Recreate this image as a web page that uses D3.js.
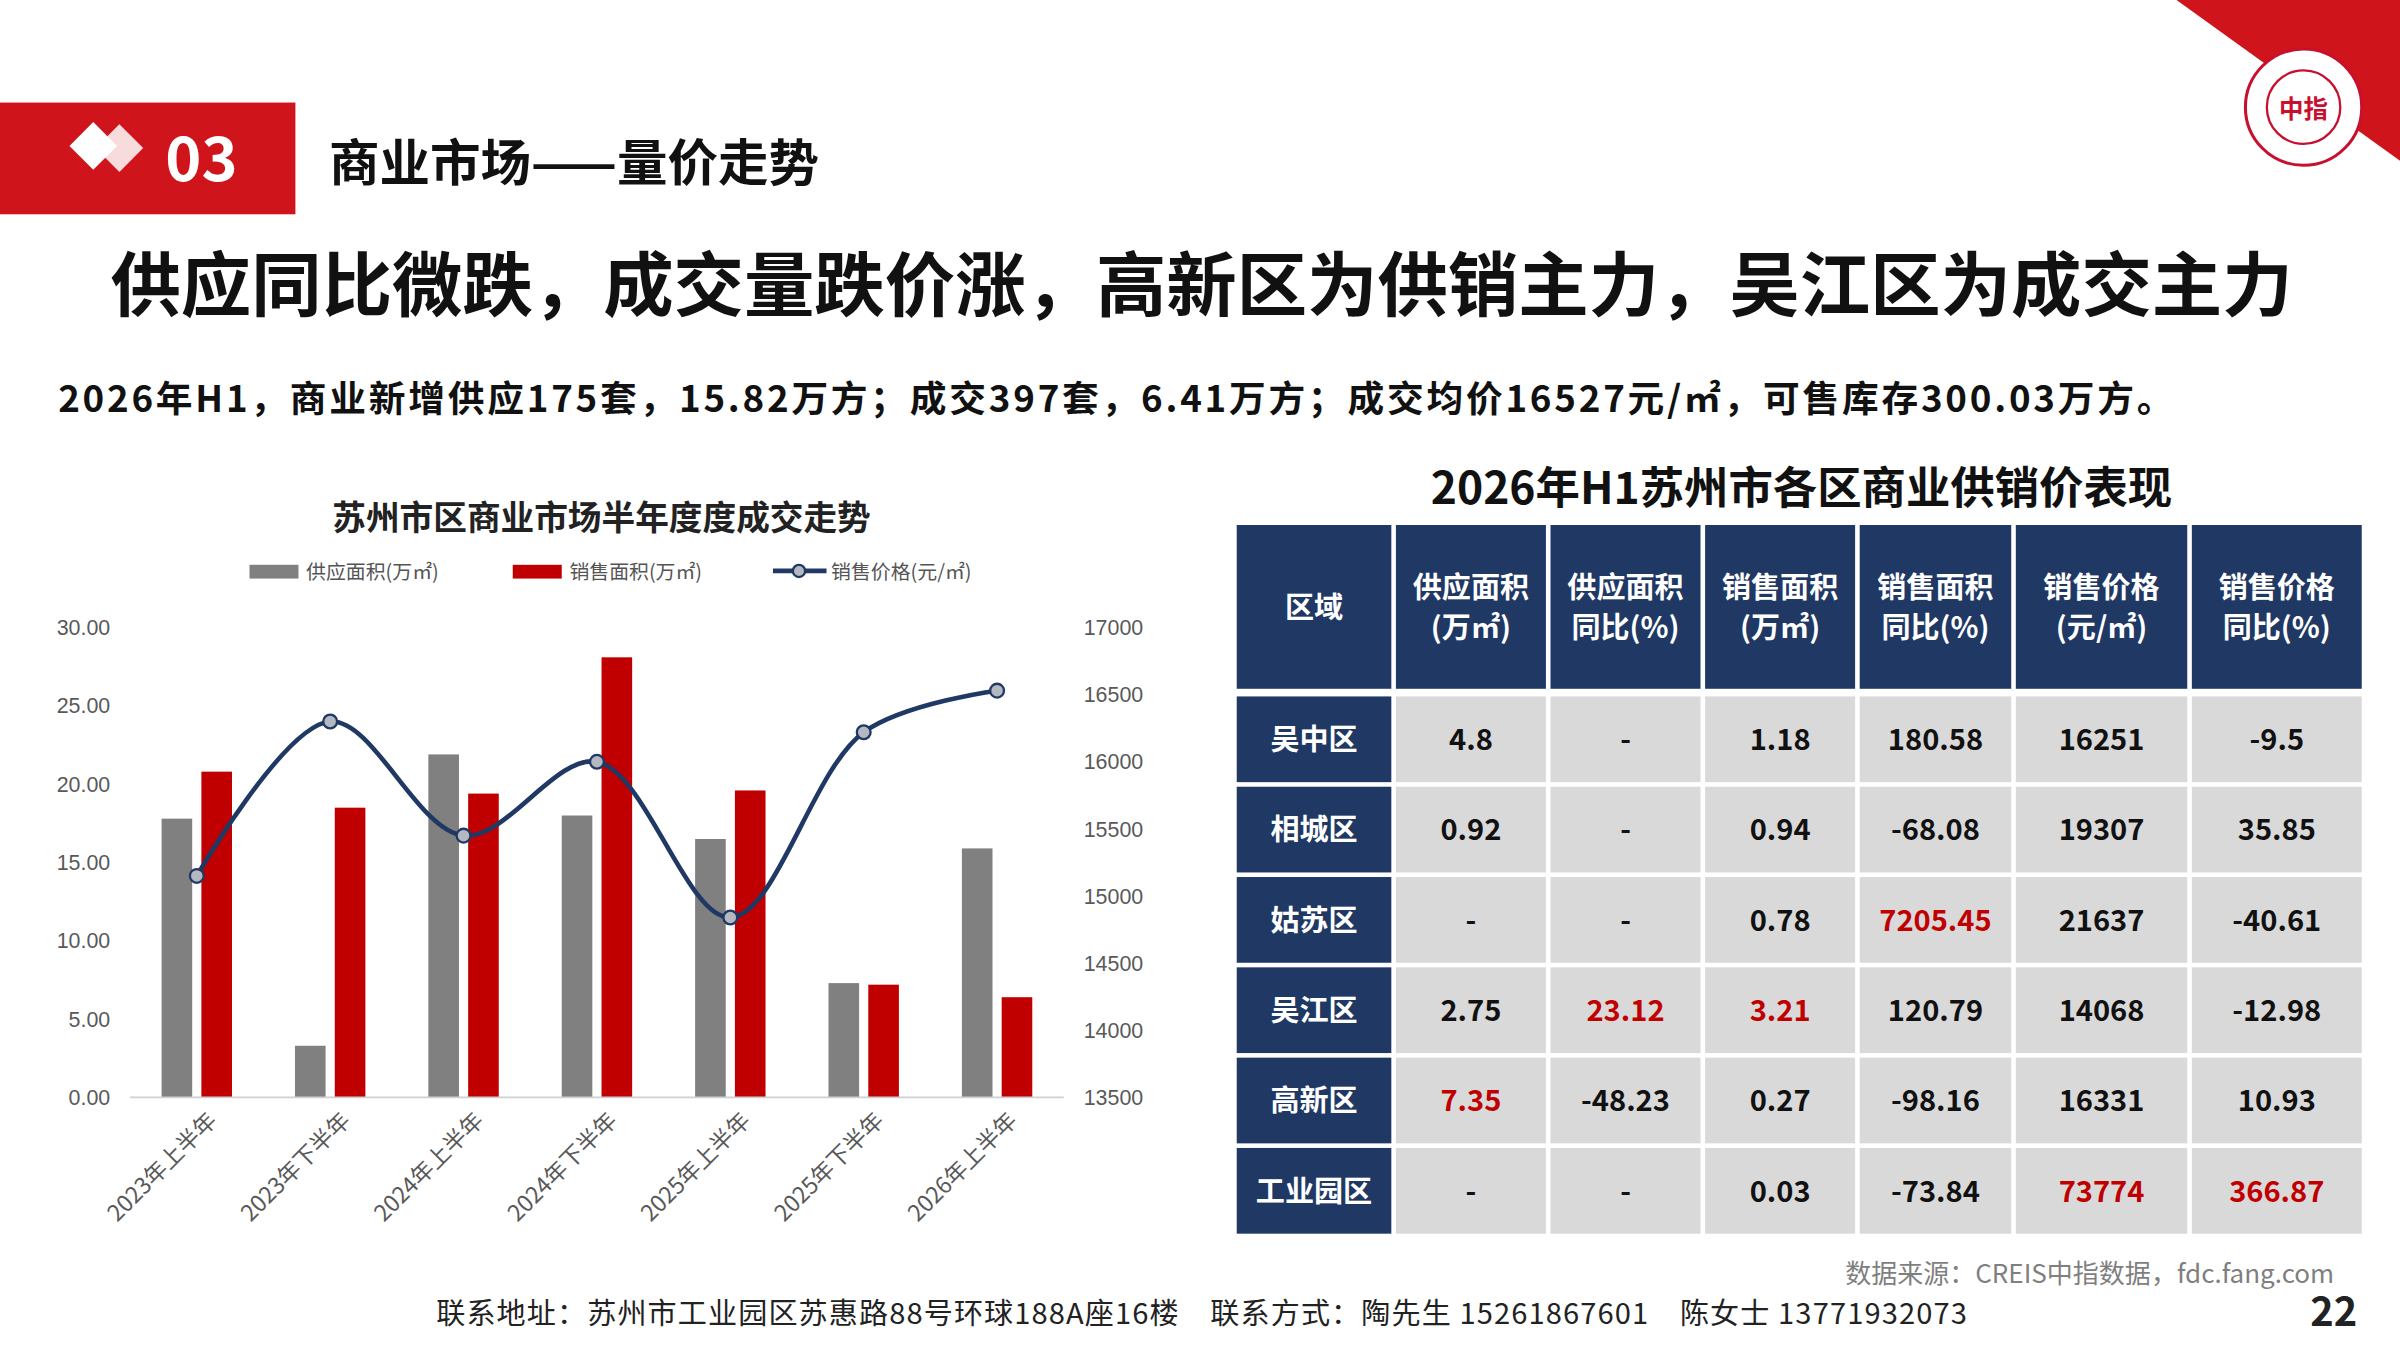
<!DOCTYPE html>
<html><head><meta charset="utf-8">
<script src="https://cdn.jsdelivr.net/npm/d3@7"></script>
<style>body{margin:0;background:#fff}svg{display:block;font-family:"Noto Sans CJK SC","Noto Sans",sans-serif}</style>
</head><body>
<svg id="s" width="2400" height="1350" viewBox="0 0 1568 882"></svg>
<script>
var periods = ['2023年上半年','2023年下半年','2024年上半年','2024年下半年','2025年上半年','2025年下半年','2026年上半年'];
var supplyArea = [17.8, 3.3, 21.9, 18.0, 16.5, 7.3, 15.9];
var salesArea = [20.8, 18.5, 19.4, 28.1, 19.6, 7.2, 6.4];
var salesPrice = [15150, 16300, 15450, 16000, 14840, 16220, 16530];
var leftTicks = [0, 5, 10, 15, 20, 25, 30];
var rightTicks = [13500, 14000, 14500, 15000, 15500, 16000, 16500, 17000];

var tableHeader = ['区域', '供应面积\n(万㎡)', '供应面积\n同比(%)', '销售面积\n(万㎡)', '销售面积\n同比(%)', '销售价格\n(元/㎡)', '销售价格\n同比(%)'];
var tableRows = [
  ['吴中区', '4.8', '-', '1.18', '180.58', '16251', '-9.5'],
  ['相城区', '0.92', '-', '0.94', '-68.08', '19307', '35.85'],
  ['姑苏区', '-', '-', '0.78', '7205.45', '21637', '-40.61'],
  ['吴江区', '2.75', '23.12', '3.21', '120.79', '14068', '-12.98'],
  ['高新区', '7.35', '-48.23', '0.27', '-98.16', '16331', '10.93'],
  ['工业园区', '-', '-', '0.03', '-73.84', '73774', '366.87']
];
// row-col of highlighted data cells (row 0 = first district)
var redCells = ['2-4', '3-2', '3-3', '4-1', '5-5', '5-6'];

var svg = d3.select('#s');
var RED = '#c00000', NAVY = '#1f3864';

// header band
svg.append('rect').attr('x', 0).attr('y', 67).attr('width', 193).attr('height', 73).attr('fill', '#d0141c');
var dg = svg.append('g').attr('transform', 'translate(68,101)');
dg.append('rect').attr('x', -14).attr('y', -14).attr('width', 22).attr('height', 22).attr('fill', '#fff').attr('transform', 'rotate(45) translate(-6,4)');
dg.append('rect').attr('x', -14).attr('y', -14).attr('width', 22).attr('height', 22).attr('fill', '#fff').attr('opacity', 0.85).attr('transform', 'translate(10,0) rotate(45)');
svg.append('text').attr('x', 108).attr('y', 118).attr('fill', '#fff').attr('font-size', 40).attr('font-weight', 'bold').text('03');
svg.append('text').attr('x', 215).attr('y', 118).attr('font-size', 33).attr('font-weight', 'bold').attr('fill', '#111').text('商业市场——量价走势');

// corner
svg.append('path').attr('d', 'M1422,0 L1568,0 L1568,105 Z').attr('fill', '#d0141c');
svg.append('circle').attr('cx', 1505).attr('cy', 70).attr('r', 38).attr('fill', '#fff').attr('stroke', '#c8102e').attr('stroke-width', 2);
svg.append('circle').attr('cx', 1505).attr('cy', 70).attr('r', 24).attr('fill', 'none').attr('stroke', '#c8102e').attr('stroke-width', 1.5);
svg.append('text').attr('x', 1505).attr('y', 77).attr('text-anchor', 'middle').attr('font-size', 16).attr('font-weight', 'bold').attr('fill', '#c8102e').text('中指');

svg.append('text').attr('x', 785).attr('y', 203).attr('text-anchor', 'middle').attr('font-size', 46).attr('font-weight', 'bold').attr('fill', '#111')
  .text('供应同比微跌，成交量跌价涨，高新区为供销主力，吴江区为成交主力');
svg.append('text').attr('x', 38).attr('y', 269).attr('font-size', 24).attr('font-weight', 'bold').attr('fill', '#111')
  .attr('textLength', 1382).attr('lengthAdjust', 'spacing')
  .text('2026年H1，商业新增供应175套，15.82万方；成交397套，6.41万方；成交均价16527元/㎡，可售库存300.03万方。');

// chart
svg.append('text').attr('x', 393).attr('y', 346).attr('text-anchor', 'middle').attr('font-size', 22).attr('font-weight', 'bold').attr('fill', '#222').text('苏州市区商业市场半年度度成交走势');
var lg = svg.append('g').attr('font-size', 13).attr('fill', '#555');
lg.append('rect').attr('x', 163).attr('y', 369).attr('width', 32).attr('height', 9).attr('fill', '#808080');
lg.append('text').attr('x', 200).attr('y', 378).text('供应面积(万㎡)');
lg.append('rect').attr('x', 335).attr('y', 369).attr('width', 32).attr('height', 9).attr('fill', RED);
lg.append('text').attr('x', 372).attr('y', 378).text('销售面积(万㎡)');
lg.append('line').attr('x1', 505).attr('x2', 540).attr('y1', 373).attr('y2', 373).attr('stroke', NAVY).attr('stroke-width', 3);
lg.append('circle').attr('cx', 522).attr('cy', 373).attr('r', 4).attr('fill', '#b4b8c0').attr('stroke', NAVY).attr('stroke-width', 1.5);
lg.append('text').attr('x', 543).attr('y', 378).text('销售价格(元/㎡)');

var x = d3.scaleBand().domain(periods).range([85, 695]);
var yL = d3.scaleLinear().domain([0, 30]).range([717, 410]);
var yR = d3.scaleLinear().domain([13500, 17000]).range([717, 410]);

var axL = svg.append('g').attr('transform', 'translate(75,0)')
  .call(d3.axisLeft(yL).tickValues(leftTicks).tickFormat(d3.format('.2f')).tickSize(0));
var axR = svg.append('g').attr('transform', 'translate(705,0)')
  .call(d3.axisRight(yR).tickValues(rightTicks).tickFormat(d3.format('d')).tickSize(0));
[axL, axR].forEach(function(a) {
  a.select('.domain').remove();
  a.selectAll('text').attr('font-size', 14).attr('fill', '#595959').attr('font-family', 'Liberation Sans, Arial, sans-serif');
});

svg.selectAll('.gb').data(supplyArea).enter().append('rect')
  .attr('x', function(d, i) { return x(periods[i]) + x.bandwidth() / 2 - 23; })
  .attr('width', 20).attr('y', function(d) { return yL(d); })
  .attr('height', function(d) { return 717 - yL(d); }).attr('fill', '#808080');
svg.selectAll('.rb').data(salesArea).enter().append('rect')
  .attr('x', function(d, i) { return x(periods[i]) + x.bandwidth() / 2 + 3; })
  .attr('width', 20).attr('y', function(d) { return yL(d); })
  .attr('height', function(d) { return 717 - yL(d); }).attr('fill', RED);

svg.append('line').attr('x1', 85).attr('x2', 695).attr('y1', 717).attr('y2', 717).attr('stroke', '#d0d0d0').attr('stroke-width', 1.2);

var line = d3.line().curve(d3.curveCatmullRom.alpha(0.5))
  .x(function(d, i) { return x(periods[i]) + x.bandwidth() / 2; })
  .y(function(d) { return yR(d); });
svg.append('path').datum(salesPrice).attr('d', line).attr('fill', 'none').attr('stroke', NAVY).attr('stroke-width', 3);
svg.selectAll('.pt').data(salesPrice).enter().append('circle')
  .attr('cx', function(d, i) { return x(periods[i]) + x.bandwidth() / 2; })
  .attr('cy', function(d) { return yR(d); }).attr('r', 4.5)
  .attr('fill', '#b4b8c0').attr('stroke', NAVY).attr('stroke-width', 1.5);

svg.selectAll('.xl').data(periods).enter().append('text')
  .attr('transform', function(d) { return 'translate(' + (x(d) + x.bandwidth() / 2 + 14) + ',733) rotate(-45)'; })
  .attr('text-anchor', 'end').attr('font-size', 15).attr('fill', '#595959').text(function(d) { return d; });

// table
svg.append('text').attr('x', 1177).attr('y', 329).attr('text-anchor', 'middle').attr('font-size', 29).attr('font-weight', 'bold').attr('fill', '#111').text('2026年H1苏州市各区商业供销价表现');
var colEdges = [808, 912, 1013, 1114, 1215, 1317, 1432, 1546];
var rowEdges = [343, 452];
tableRows.forEach(function(r, i) { rowEdges.push(452 + (i + 1) * 59); });
var tg = svg.append('g').attr('font-weight', 'bold').attr('text-anchor', 'middle');
function cell(ri, ci, txt, head, red) {
  var x0 = colEdges[ci], x1 = colEdges[ci + 1] - 3;
  var y0 = rowEdges[ri] + (ri > 0 ? 3 : 0), y1 = rowEdges[ri + 1] - (ri === 0 ? 2 : 0);
  tg.append('rect').attr('x', x0).attr('y', y0).attr('width', x1 - x0).attr('height', y1 - y0)
    .attr('fill', head ? NAVY : '#d9d9d9');
  var lines = txt.split('\n'), cx = (x0 + x1) / 2, cy = (y0 + y1) / 2;
  lines.forEach(function(t, k) {
    tg.append('text').attr('x', cx).attr('y', cy + (k - (lines.length - 1) / 2) * 26 + 7)
      .attr('font-size', 19).attr('fill', head ? '#fff' : (red ? RED : '#111')).text(t);
  });
}
tableHeader.forEach(function(h, ci) { cell(0, ci, h, true, false); });
tableRows.forEach(function(r, ri) {
  r.forEach(function(v, ci) { cell(ri + 1, ci, v, ci === 0, redCells.indexOf(ri + '-' + ci) >= 0); });
});

// footer
svg.append('text').attr('x', 1525).attr('y', 838).attr('text-anchor', 'end').attr('font-size', 17).attr('fill', '#7f7f7f').text('数据来源：CREIS中指数据，fdc.fang.com');
svg.append('text').attr('x', 285).attr('y', 865).attr('font-size', 19).attr('fill', '#222').attr('xml:space', 'preserve')
  .attr('textLength', 1000).attr('lengthAdjust', 'spacing')
  .text('联系地址：苏州市工业园区苏惠路88号环球188A座16楼    联系方式：陶先生 15261867601    陈女士 13771932073');
svg.append('text').attr('x', 1540).attr('y', 866).attr('text-anchor', 'end').attr('font-size', 26).attr('font-weight', 'bold').attr('fill', '#222').text('22');
</script>
</body></html>
